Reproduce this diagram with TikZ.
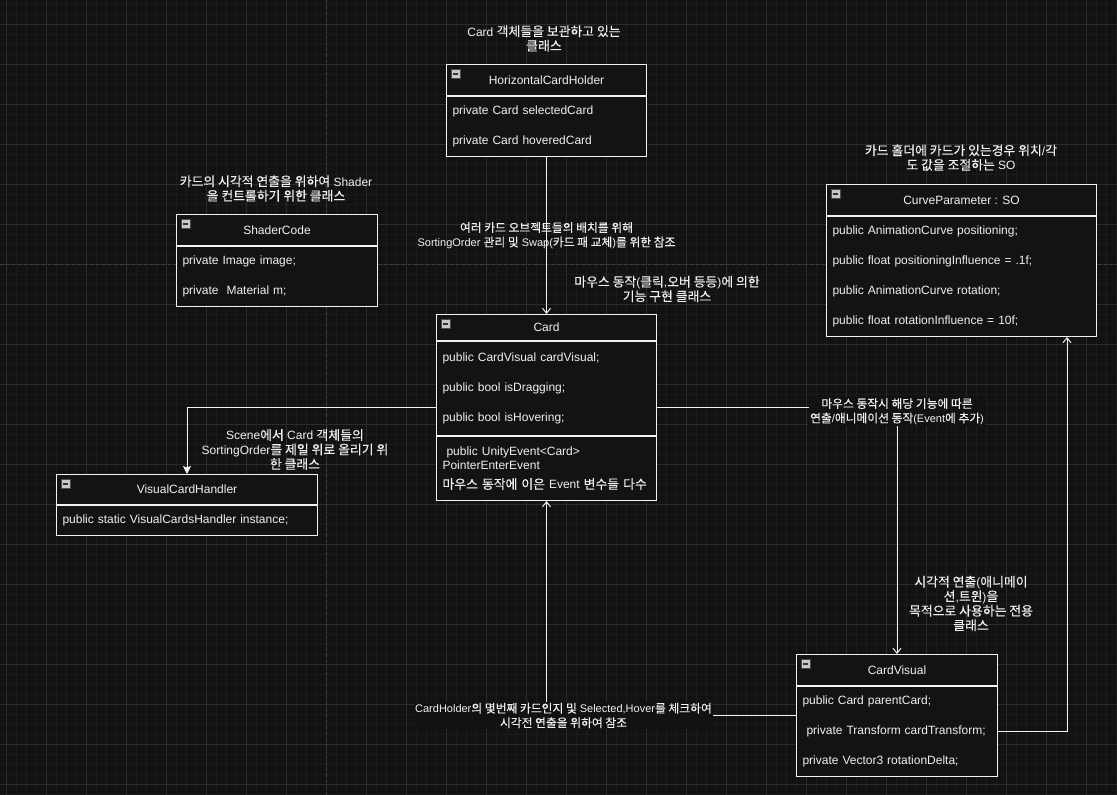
\documentclass[tikz,border=0pt]{standalone}
\usepackage{fontspec}
\setmainfont{Liberation Sans}
\newfontfamily\krfont[Scale=1.07,FakeBold=0.2]{Noto Sans CJK KR}
\newcommand{\kor}[1]{{\krfont #1}}
\usetikzlibrary{arrows.meta,positioning,calc}
\definecolor{canvas}{HTML}{121212}
\definecolor{boxfill}{HTML}{131313}
\definecolor{minorline}{HTML}{1B1B1B}
\definecolor{majorline}{HTML}{2C2C2C}
\definecolor{pageline}{HTML}{3E3E3E}
\definecolor{linecol}{HTML}{F2F2F2}
\definecolor{textcol}{HTML}{F0F0F0}
\definecolor{iconfill}{HTML}{C8C8C8}
\tikzset{
  classhead/.style={draw=linecol, fill=boxfill, line width=1pt, anchor=north west, align=center, inner sep=0pt, minimum height=31pt, text=textcol, font=\fontsize{12}{14}\selectfont},
  classbody/.style={draw=linecol, fill=boxfill, line width=1pt, anchor=north west, align=left, inner xsep=6pt, inner ysep=0pt, text=textcol, font=\fontsize{12}{30}\selectfont},
  minusicon/.style={draw=black!70, fill=iconfill, line width=0.6pt, anchor=north west, minimum size=9pt, inner sep=0pt,
    path picture={\draw[line width=1.4pt, black!80] ([xshift=2pt]path picture bounding box.west) -- ([xshift=-2pt]path picture bounding box.east);}},
  caption/.style={align=center, inner sep=1pt, text=textcol, font=\fontsize{12}{14.5}\selectfont},
  edgelabel/.style={align=center, inner sep=1pt, fill=canvas, text=textcol, font=\fontsize{11}{14.5}\selectfont},
  openarrow/.style={-{Straight Barb[length=5pt,width=8pt]}, draw=linecol, line width=1pt},
  filledarrow/.style={-{Stealth[length=8pt,width=8pt,inset=1.5pt]}, draw=linecol, line width=1pt},
  minorgrid/.style={draw=minorline, line width=1pt},
  majorgrid/.style={draw=majorline, line width=1pt},
  pagebreak/.style={draw=pageline, line width=1pt, dash pattern=on 3pt off 3pt}
}

\begin{document}
\begin{tikzpicture}[x=1pt,y=-1pt]
% canvas and grid
\fill[canvas] (0,0) rectangle (1117,795);
\useasboundingbox (0,0) rectangle (1117,795);
\foreach \gx in {6.5,16.5,...,1116.5} \draw[minorgrid] (\gx,0) -- (\gx,795);
\foreach \gy in {4.5,14.5,...,794.5} \draw[minorgrid] (0,\gy) -- (1117,\gy);
\foreach \gx in {6.5,46.5,...,1086.5} \draw[majorgrid] (\gx,0) -- (\gx,795);
\foreach \gy in {24.5,64.5,...,784.5} \draw[majorgrid] (0,\gy) -- (1117,\gy);
\draw[pagebreak] (326.5,0) -- (326.5,795);
\draw[pagebreak] (0,264.5) -- (1117,264.5);

% HorizontalCardHolder
\node[caption] (holdercap) at (544,38.5) {Card \kor{객체들을 보관하고 있는}\\\kor{클래스}};
\node[classhead, minimum width=200pt] (holder) at (446,64) {HorizontalCardHolder};
\node[classbody, text width=188pt, minimum height=60pt] (holderattr) at (holder.south west) {private Card selectedCard\\private Card hoveredCard};
\node[minusicon] (holdericon) at ([shift={(5,5)}]holder.north west) {};

% ShaderCode
\node[caption] (shadercap) at (276,188.5) {\kor{카드의 시각적 연출을 위하여} Shader\\\kor{을 컨트롤하기 위한 클래스}};
\node[classhead, minimum width=201pt] (shader) at (176,214) {ShaderCode};
\node[classbody, text width=189pt, minimum height=60pt] (shaderattr) at (shader.south west) {private Image image;\\private\ \ Material m;};
\node[minusicon] (shadericon) at ([shift={(5,5)}]shader.north west) {};

% CurveParameter
\node[caption] (curvecap) at (961,157.5) {\kor{카드 홀더에 카드가 있는경우 위치}/\kor{각}\\\kor{도 값을 조절하는} SO};
\node[classhead, minimum width=270pt] (curve) at (826,184) {CurveParameter : SO};
\node[classbody, text width=258pt, minimum height=120pt] (curveattr) at (curve.south west) {public AnimationCurve positioning;\\public float positioningInfluence = .1f;\\public AnimationCurve rotation;\\public float rotationInfluence = 10f;};
\node[minusicon] (curveicon) at ([shift={(5,5)}]curve.north west) {};

% Card
\node[caption] (cardcap) at (667,289) {\kor{마우스 동작}(\kor{클릭},\kor{오버 등등})\kor{에 의한}\\\kor{기능 구현 클래스}};
\node[classhead, minimum width=220pt, minimum height=26pt] (card) at (436,314) {Card};
\node[classbody, text width=208pt, minimum height=94pt] (cardattr) at (card.south west) {public CardVisual cardVisual;\\public bool isDragging;\\public bool isHovering;};
\node[classbody, text width=208pt, minimum height=64pt, font=\fontsize{12}{14}\selectfont] (cardevt) at (cardattr.south west) {\ public UnityEvent\textless Card\textgreater\\PointerEnterEvent\\[5pt]\kor{마우스 동작에 이은} Event \kor{변수들 다수}};
\node[minusicon] (cardicon) at ([shift={(5,5)}]card.north west) {};
\coordinate (cardmid) at ($(card.north)!0.5!(cardevt.south)$);

% VisualCardHandler
\node[caption] (handlercap) at (295,449.5) {Scene\kor{에서} Card \kor{객체들의}\\SortingOrder\kor{를 제일 위로 올리기 위}\\\kor{한 클래스}};
\node[classhead, minimum width=261pt, minimum height=30pt] (handler) at (56,474) {VisualCardHandler};
\node[classbody, text width=249pt, minimum height=30pt] (handlerattr) at (handler.south west) {public static VisualCardsHandler instance;};
\node[minusicon] (handlericon) at ([shift={(5,5)}]handler.north west) {};

% CardVisual
\node[caption] (visualcap) at (971,603.5) {\kor{시각적 연출}(\kor{애니메이}\\\kor{션},\kor{트윈})\kor{을}\\\kor{목적으로 사용하는 전용}\\\kor{클래스}};
\node[classhead, minimum width=201pt] (visual) at (796,654) {CardVisual};
\node[classbody, text width=189pt, minimum height=90pt] (visualattr) at (visual.south west) {public Card parentCard;\\\ private Transform cardTransform;\\private Vector3 rotationDelta;};
\node[minusicon] (visualicon) at ([shift={(5,5)}]visual.north west) {};
\coordinate (visualmid) at ($(visual.north)!0.5!(visualattr.south)$);

% connectors
\draw[openarrow] (holderattr.south) -- node[edgelabel, fill=none] (holderlabel) {\kor{여러 카드 오브젝트들의 배치를 위해}\\SortingOrder \kor{관리 및} Swap(\kor{카드 패 교체})\kor{를 위한 참조}} (card.north);
\draw[filledarrow] (cardmid -| card.west) -| (handler.north);
\draw[openarrow] (cardmid -| card.east) -| node[pos=0.5, edgelabel, yshift=-4pt] (cardlabel) {\kor{마우스 동작시 해당 기능에 따른}\\\kor{연출}/\kor{애니메이션 동작}(Event\kor{에 추가})} (visual.north);
\draw[openarrow] (visualmid -| visual.west) -| node[pos=0.5, edgelabel, xshift=17pt] (visuallabel) {CardHolder\kor{의 몇번째 카드인지 및} Selected,Hover\kor{를 체크하여}\\\kor{시각전 연출을 위하여 참조}} (cardevt.south);
\draw[openarrow] (visualattr.east) -| ([xshift=-30pt]curveattr.south east);
\end{tikzpicture}
\end{document}
